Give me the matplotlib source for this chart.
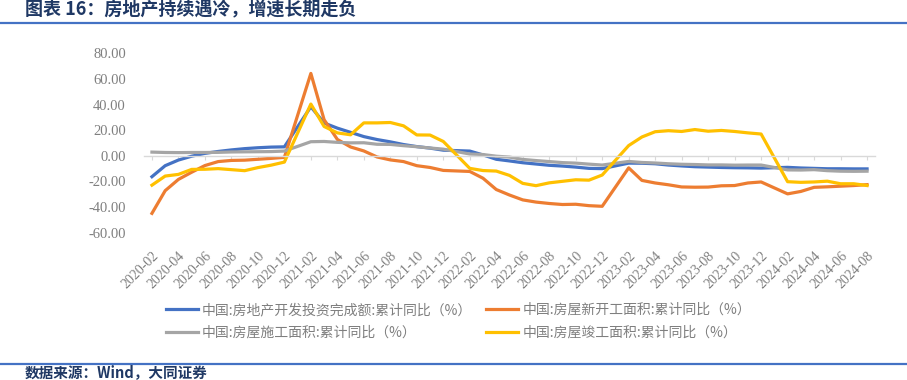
import numpy as np
import matplotlib
matplotlib.use("Agg")
import matplotlib.pyplot as plt
from matplotlib.lines import Line2D

plt.rcParams['font.family'] = ['Noto Sans CJK SC', 'DejaVu Sans']
plt.rcParams['axes.unicode_minus'] = False

# months with data (January is merged into February in the cumulative stats)
months = ([f"2020-{m:02d}" for m in range(2, 13)] + [f"2021-{m:02d}" for m in range(2, 13)]
          + [f"2022-{m:02d}" for m in range(2, 13)] + [f"2023-{m:02d}" for m in range(2, 13)]
          + [f"2024-{m:02d}" for m in range(2, 9)])

# 房地产开发投资完成额 累计同比
invest = [-16.3, -7.7, -3.3, -0.3, 1.9, 3.4, 4.6, 5.6, 6.3, 6.8, 7.0,
          38.3, 25.6, 21.6, 18.3, 15.0, 12.7, 10.9, 8.8, 7.2, 6.0, 4.4,
          3.7, 0.7, -2.7, -4.0, -5.4, -6.4, -7.4, -8.0, -8.8, -9.8, -10.0,
          -5.7, -5.8, -6.2, -7.2, -7.9, -8.5, -8.8, -9.1, -9.3, -9.4, -9.6,
          -9.0, -9.5, -9.8, -10.1, -10.1, -10.2, -10.2]
# 房屋新开工面积 累计同比
new_start = [-44.9, -27.2, -18.4, -12.8, -7.6, -4.5, -3.6, -3.4, -2.7, -2.0, -1.2,
             64.3, 28.2, 12.8, 6.9, 3.8, -0.9, -3.2, -4.5, -7.7, -9.1, -11.4,
             -12.2, -17.5, -26.3, -30.6, -34.4, -36.1, -37.2, -38.0, -37.8, -38.9, -39.4,
             -9.4, -19.2, -21.2, -22.6, -24.3, -24.5, -24.4, -23.4, -23.2, -21.2, -20.4,
             -29.7, -27.8, -24.6, -24.2, -23.7, -23.2, -22.5]
# 房屋施工面积 累计同比
under_constr = [2.9, 2.6, 2.5, 2.6, 2.6, 2.7, 3.0, 3.1, 3.2, 3.3, 3.7,
                11.0, 11.2, 10.5, 10.1, 10.2, 9.0, 8.9, 7.9, 7.1, 6.1, 5.2,
                1.4, 1.0, -0.3, -1.0, -2.8, -3.7, -4.5, -5.3, -5.7, -6.5, -7.2,
                -4.4, -5.2, -5.6, -6.2, -6.6, -6.8, -7.1, -7.1, -7.3, -7.2, -7.2,
                -11.0, -11.1, -10.8, -11.6, -12.0, -12.1, -12.0]
# 房屋竣工面积 累计同比
completed = [-22.9, -15.8, -14.5, -10.6, -10.5, -10.0, -10.8, -11.6, -9.2, -7.3, -4.9,
             40.4, 22.9, 17.9, 16.4, 25.7, 25.7, 26.0, 23.4, 16.3, 16.2, 11.2,
             -9.8, -11.5, -11.9, -15.3, -21.5, -23.3, -21.1, -19.9, -18.7, -19.0, -15.0,
             8.0, 14.7, 18.8, 19.6, 19.0, 20.5, 19.2, 19.8, 19.0, 17.9, 17.0,
             -20.2, -20.7, -20.4, -19.8, -21.8, -21.8, -23.2]

names = ["中国:房地产开发投资完成额:累计同比（%）", "中国:房屋新开工面积:累计同比（%）",
         "中国:房屋施工面积:累计同比（%）", "中国:房屋竣工面积:累计同比（%）"]
colors = ["#4472C4", "#ED7D31", "#A5A5A5", "#FFC000"]
yticks = [-60, -40, -20, 0, 20, 40, 60, 80]


def month_index(s):
    y, m = s.split("-")
    return (int(y) - 2020) * 12 + int(m) - 2


x = np.array([month_index(s) for s in months])
tick_labels = [f"{y}-{m:02d}" for y in range(2020, 2025) for m in range(2, 13, 2)
               if not (y == 2024 and m > 8)]
tick_pos = [month_index(s) for s in tick_labels]

fig = plt.figure(figsize=(9.07, 3.8), dpi=100)
ax = fig.add_axes([144 / 907, 1 - 232.7 / 380, 731 / 907, 179.4 / 380])

lines = []
for vals, c, n in zip([invest, new_start, under_constr, completed], colors, names):
    ln, = ax.plot(x, vals, color=c, lw=2.3, label=n, solid_joinstyle="round")
    lines.append(ln)

ax.set_xlim(-0.6, 54.6)
ax.set_ylim(-60, 80)
for s in ["top", "right", "left"]:
    ax.spines[s].set_visible(False)
ax.spines["bottom"].set_position(("data", 0))
ax.spines["bottom"].set_color("#d9d9d9")
ax.spines["bottom"].set_linewidth(1.0)

ax.set_yticks(yticks, [f"{v:.2f}" for v in yticks])
ax.set_xticks(tick_pos, tick_labels)
ax.tick_params(axis="y", length=0, pad=13, labelsize=10.5, labelcolor="#7f7f7f")
ax.tick_params(axis="x", length=3, color="#d9d9d9", direction="out", pad=64,
               labelsize=10, labelcolor="#7f7f7f")
for lab in ax.get_yticklabels():
    lab.set_family("Liberation Serif")
for lab in ax.get_xticklabels():
    lab.set_family("Liberation Serif")
    lab.set_rotation(45)
    lab.set_ha("right")
    lab.set_va("top")
    lab.set_rotation_mode("anchor")

# legend rows: blue / orange on top, gray / yellow below (column-major order)
order = [0, 2, 1, 3]
leg = fig.legend([lines[i] for i in order], [names[i] for i in order],
                 loc="upper left", bbox_to_anchor=(166 / 907, 1 - 303 / 380), ncol=2,
                 frameon=False, fontsize=10, handlelength=2.3, handletextpad=0.3,
                 columnspacing=1.0, labelspacing=0.62, borderpad=0, borderaxespad=0)
for t in leg.get_texts():
    t.set_color("#7f7f7f")

# header and footer
fig.text(25 / 907, 1 - 10 / 380, "图表 16：房地产持续遇冷，增速长期走负", fontsize=13,
         fontweight="bold", color="#1F3864", va="center")
fig.add_artist(Line2D([0, 1], [1 - 23 / 380] * 2, color="#4472C4", lw=1.6,
                      transform=fig.transFigure))
fig.add_artist(Line2D([0, 1], [1 - 364 / 380] * 2, color="#4472C4", lw=1.6,
                      transform=fig.transFigure))
fig.text(25 / 907, 1 - 372.5 / 380, "数据来源：Wind，大同证券", fontsize=10.5,
         fontweight="bold", color="#1F3864", va="center")

fig.savefig("out.png", dpi=100)
